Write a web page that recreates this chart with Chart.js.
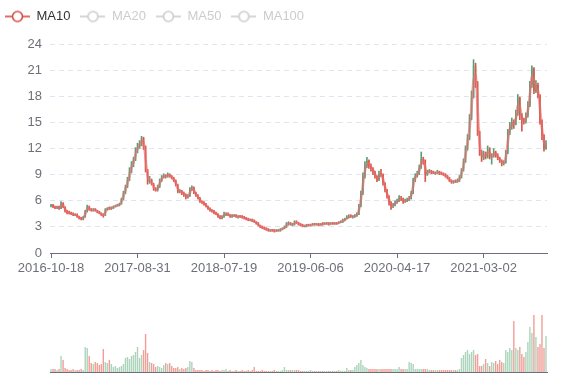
<!DOCTYPE html>
<html>
<head>
<meta charset="utf-8">
<script src="https://cdn.jsdelivr.net/npm/chart.js@4.4.1/dist/chart.umd.min.js"></script>
<style>
html,body{margin:0;padding:0;background:#fff;}
#wrap{position:relative;width:577px;height:380px;overflow:hidden;}
#price{position:absolute;left:0;top:0;}
#vol{position:absolute;left:0;top:290px;}
</style>
</head>
<body>
<div id="wrap">
<canvas id="price" width="577" height="283"></canvas>
<canvas id="vol" width="577" height="90"></canvas>
</div>
<script>
// ---- data (one candle ≈ one trading week) ----
const tickLabels = ['2016-10-18','2017-08-31','2018-07-19','2019-06-06','2020-04-17','2021-03-02'];
const labelEvery = 43;
const legendNames = ['MA10','MA20','MA50','MA100'];
const legendActive = [true,false,false,false];

const openPrices = [
5.4,5.5,5.3,5.2,5.3,5.1,5.7,5.3,4.8,4.7,
4.6,4.5,4.3,4.4,4.2,4.0,3.9,4.1,4.8,5.3,
5.0,4.9,5.0,4.9,4.7,4.6,4.4,4.3,5.0,5.2,
5.1,5.2,5.3,5.4,5.5,5.6,6.2,6.9,7.6,8.4,
9.4,10.2,10.7,11.8,12.2,12.5,13.2,12.2,9.5,8.2,
8.4,7.9,7.3,7.2,7.6,8.3,8.7,8.9,8.8,9.0,
8.8,8.6,8.3,7.8,7.0,7.1,6.9,6.7,6.4,6.5,
7.3,7.5,6.9,6.6,6.3,5.9,5.8,5.6,5.4,5.1,
4.9,4.8,4.6,4.5,4.2,4.0,4.2,4.4,4.5,4.4,
4.2,4.2,4.3,4.1,4.3,4.2,4.1,4.0,3.9,3.7,
3.8,3.7,3.6,3.4,3.2,3.0,2.9,2.8,2.7,2.5,
2.7,2.6,2.5,2.5,2.6,2.7,2.8,3.0,3.3,3.4,
3.2,3.3,3.6,3.5,3.3,3.2,3.0,3.1,3.3,3.1,
3.2,3.4,3.2,3.3,3.2,3.4,3.3,3.3,3.4,3.3,
3.5,3.3,3.5,3.4,3.5,3.6,3.7,3.9,4.1,4.3,
4.1,4.2,4.3,4.4,5.4,6.8,8.8,10.0,10.6,10.0,
9.7,9.3,8.8,8.4,9.2,9.0,8.0,7.2,6.5,5.8,
5.4,5.5,5.8,6.0,6.3,6.2,5.9,6.0,6.1,6.3,
6.9,8.4,8.8,9.1,9.8,10.8,10.6,9.0,9.3,9.4,
9.3,9.1,9.2,9.3,9.2,9.1,9.0,8.9,8.6,8.3,
8.1,8.3,8.2,8.3,8.7,9.5,10.5,12.0,13.2,15.5,
18.0,21.5,19.5,13.9,11.6,10.9,11.4,11.0,12.0,11.0,
11.1,11.6,11.2,10.9,10.6,10.3,10.4,11.5,13.9,14.5,
15.1,14.8,16.0,17.8,15.8,15.2,15.1,15.8,17.0,19.3,
21.2,18.6,19.3,18.1,15.1,13.5,12.0
];
const closePrices = [
5.5,5.3,5.2,5.3,5.1,5.7,5.3,4.8,4.6,4.6,
4.5,4.4,4.4,4.2,4.0,3.9,4.1,4.8,5.3,5.0,
4.9,5.0,4.9,4.7,4.6,4.4,4.3,5.0,5.1,5.1,
5.2,5.3,5.4,5.5,5.6,6.2,6.9,7.6,8.4,9.4,
10.2,10.7,11.8,12.2,12.5,13.2,12.2,9.5,8.2,8.4,
7.9,7.3,7.2,7.6,8.3,8.7,8.9,8.8,9.0,8.8,
8.6,8.3,7.8,7.0,7.1,6.9,6.7,6.4,6.5,7.3,
7.5,6.9,6.6,6.3,5.9,5.8,5.6,5.4,5.1,4.9,
4.8,4.6,4.5,4.2,4.0,4.2,4.5,4.5,4.4,4.2,
4.3,4.3,4.2,4.2,4.2,4.1,4.0,3.9,3.8,3.8,
3.7,3.6,3.4,3.2,3.0,2.9,2.8,2.7,2.6,2.6,
2.6,2.5,2.6,2.6,2.7,2.8,3.0,3.3,3.4,3.3,
3.3,3.5,3.5,3.3,3.2,3.1,3.1,3.2,3.2,3.2,
3.3,3.3,3.3,3.2,3.3,3.3,3.4,3.4,3.3,3.4,
3.4,3.4,3.4,3.5,3.6,3.7,3.9,4.1,4.2,4.2,
4.2,4.3,4.4,5.4,6.8,8.8,10.0,10.6,10.0,9.7,
9.3,8.8,8.4,9.0,9.0,8.0,7.2,6.5,5.8,5.4,
5.5,5.8,6.0,6.3,6.2,5.9,6.0,6.1,6.3,6.9,
8.4,8.8,9.1,9.8,10.8,10.6,9.0,9.3,9.4,9.3,
9.2,9.2,9.3,9.2,9.1,9.0,8.9,8.6,8.3,8.2,
8.2,8.2,8.3,8.7,9.5,10.5,12.0,13.2,15.5,18.0,
21.5,19.5,13.9,11.6,10.9,11.4,11.0,12.0,11.0,11.1,
11.6,11.2,10.9,10.6,10.3,10.4,11.5,13.9,14.5,15.1,
14.8,16.0,17.8,15.8,15.2,15.1,15.8,17.0,19.3,21.2,
18.6,19.3,18.1,15.1,13.5,12.0,12.6
];
const highPrices = [
5.6,5.6,5.4,5.4,5.4,5.9,5.8,5.3,4.9,4.8,
4.7,4.6,4.5,4.5,4.2,4.1,4.2,4.9,5.5,5.4,
5.1,5.1,5.1,4.9,4.8,4.6,4.5,5.1,5.2,5.3,
5.3,5.4,5.5,5.6,5.7,6.3,7.1,7.8,8.7,9.8,
10.5,11.0,12.1,12.6,12.9,13.4,13.3,12.3,9.6,8.8,
8.5,8.0,7.5,7.8,8.5,8.9,9.1,9.0,9.2,9.1,
8.9,8.7,8.4,7.9,7.3,7.2,7.0,6.8,6.7,7.5,
7.7,7.6,7.0,6.7,6.4,6.0,5.9,5.7,5.4,5.2,
5.0,4.9,4.7,4.5,4.3,4.3,4.7,4.6,4.6,4.4,
4.4,4.4,4.4,4.3,4.3,4.3,4.2,4.1,4.0,3.9,
3.9,3.8,3.6,3.5,3.2,3.1,3.0,2.9,2.8,2.7,
2.7,2.7,2.7,2.7,2.8,2.9,3.1,3.5,3.6,3.5,
3.4,3.7,3.7,3.5,3.4,3.3,3.2,3.3,3.3,3.3,
3.4,3.4,3.4,3.4,3.4,3.5,3.5,3.5,3.5,3.5,
3.5,3.5,3.5,3.6,3.7,3.9,4.0,4.3,4.4,4.4,
4.3,4.4,4.6,5.6,7.1,9.2,10.5,11.0,10.7,10.2,
9.8,9.4,8.9,9.4,9.6,9.1,8.1,7.3,6.6,5.9,
5.7,6.0,6.2,6.6,6.5,6.3,6.2,6.3,6.5,7.1,
8.6,9.1,9.4,10.1,11.6,11.0,10.7,9.5,9.6,9.5,
9.4,9.3,9.5,9.4,9.3,9.2,9.1,8.9,8.7,8.4,
8.3,8.4,8.5,8.9,9.7,10.8,12.3,13.6,15.9,18.6,
22.2,21.8,19.7,14.0,11.8,11.7,11.6,12.3,12.1,11.4,
12.0,11.7,11.4,11.0,10.7,10.6,11.8,14.2,15.0,15.5,
15.3,16.4,18.2,17.9,16.0,15.5,16.1,17.4,19.7,21.5,
21.3,19.8,19.5,18.2,15.3,13.6,12.9
];
const lowPrices = [
5.3,5.2,5.1,5.1,5.0,5.1,5.2,4.7,4.5,4.5,
4.4,4.3,4.3,4.1,3.9,3.8,3.8,4.1,4.7,4.9,
4.8,4.8,4.8,4.6,4.5,4.3,4.1,4.3,4.9,5.0,
5.0,5.1,5.3,5.4,5.4,5.6,6.1,6.8,7.5,8.3,
9.2,9.9,10.6,11.5,12.0,12.3,11.9,9.3,7.9,8.0,
7.8,7.2,7.1,7.1,7.5,8.2,8.6,8.6,8.7,8.7,
8.5,8.2,7.7,6.9,6.9,6.7,6.5,6.2,6.3,6.5,
7.2,6.8,6.5,6.2,5.8,5.7,5.5,5.3,5.0,4.8,
4.7,4.5,4.4,4.1,3.9,3.9,4.1,4.3,4.3,4.1,
4.1,4.2,4.1,4.0,4.1,4.0,3.9,3.8,3.7,3.7,
3.6,3.5,3.3,3.1,2.9,2.8,2.7,2.6,2.5,2.5,
2.5,2.4,2.5,2.5,2.5,2.7,2.8,2.9,3.2,3.2,
3.1,3.2,3.4,3.2,3.1,3.0,3.0,3.0,3.1,3.1,
3.2,3.2,3.2,3.1,3.2,3.2,3.3,3.3,3.2,3.3,
3.3,3.3,3.3,3.4,3.5,3.5,3.7,3.9,4.0,4.1,
4.0,4.1,4.2,4.4,5.3,6.7,8.6,9.8,9.7,9.4,
9.0,8.6,8.2,8.3,8.8,7.8,7.0,6.3,5.5,5.0,
5.2,5.4,5.7,5.9,6.0,5.7,5.8,5.9,6.0,6.2,
6.8,8.2,8.7,9.0,9.7,10.2,8.2,8.9,9.2,9.1,
9.1,9.0,9.1,9.0,9.0,8.9,8.7,8.5,8.2,8.0,
8.0,8.1,8.1,8.2,8.6,9.4,10.4,11.8,13.0,15.3,
17.8,19.0,13.5,11.2,10.5,10.7,10.8,10.9,10.8,10.2,
11.0,11.0,10.7,10.4,10.0,10.1,10.3,11.4,13.6,14.2,
14.3,14.7,15.8,15.3,14.0,14.8,14.9,15.6,16.8,19.0,
18.3,18.4,17.8,14.8,13.0,11.7,11.9
];
const volumes = [
3,3,3,2,3,16,12,4,3,2,
2,3,2,2,2,3,2,25,24,16,
9,8,10,9,7,8,23,10,9,12,
8,5,6,4,5,6,8,14,15,13,
16,17,20,25,14,17,22,38,19,10,
9,8,5,6,5,4,7,9,8,9,
6,4,4,5,3,4,3,4,5,11,
10,4,2,2,2,2,1,2,2,1,
2,1,2,2,1,2,2,3,1,2,
1,1,2,1,1,2,1,1,2,1,
2,5,1,1,1,2,1,1,1,1,
1,2,1,1,1,2,5,2,2,2,
2,2,2,2,1,1,1,1,1,2,
1,1,1,1,1,1,1,1,1,1,
1,1,1,2,1,1,1,4,2,2,
2,5,7,9,12,7,5,4,3,3,
3,3,3,3,3,3,3,3,3,3,
3,3,3,5,3,3,3,3,10,9,
8,3,3,3,3,3,3,3,2,2,
2,2,2,2,2,2,2,2,2,2,
2,2,2,3,14,17,20,22,18,20,
22,17,18,6,6,8,13,9,6,10,
9,11,8,12,10,9,22,20,24,22,
51,24,22,25,18,15,20,30,45,39,
57,35,25,28,57,24,36
];

// ---- derived ----
// category dates: each tick label starts a run of weekly candles
const categories = closePrices.map((_, i) => {
  const k = Math.floor(i / labelEvery);
  const d = new Date(tickLabels[k] + 'T00:00:00Z');
  d.setUTCDate(d.getUTCDate() + 7 * (i % labelEvery));
  return d.toISOString().slice(0, 10);
});
// MA10: 10 trading days = 2 weekly candles
const MA_WINDOW = 2;
const ma10 = closePrices.map((_, i) => {
  if (i < MA_WINDOW - 1) return null;
  let s = 0;
  for (let j = i - MA_WINDOW + 1; j <= i; j++) s += closePrices[j];
  return +(s / MA_WINDOW).toFixed(3);
});
const bodies = closePrices.map((c, i) => [openPrices[i], c]);
const wicks = closePrices.map((c, i) => [
  Math.min(lowPrices[i], openPrices[i], c),
  Math.max(highPrices[i], openPrices[i], c)
]);

const UP = '#5a9f78', DOWN = '#d9584a';
const VOL_UP = 'rgba(90,170,120,0.5)', VOL_DOWN = 'rgba(230,95,80,0.6)';
const isUp = closePrices.map((c, i) => c >= openPrices[i]);
const candleColors = isUp.map(u => u ? UP : DOWN);
const volColors = isUp.map(u => u ? VOL_UP : VOL_DOWN);

const FONT = 'Liberation Sans, Arial, Helvetica, sans-serif';
const AXIS = '#6E7079';

function legendIcon(color) {
  const c = document.createElement('canvas');
  c.width = 25; c.height = 14;
  const g = c.getContext('2d');
  g.strokeStyle = color; g.lineWidth = 1.6;
  g.beginPath(); g.moveTo(0, 7); g.lineTo(25, 7); g.stroke();
  g.beginPath(); g.arc(12.5, 7, 5, 0, Math.PI * 2);
  g.fillStyle = '#fff'; g.fill(); g.stroke();
  return c;
}
const legendIcons = legendNames.map((n, i) => legendIcon(legendActive[i] ? '#d84a45' : '#cccccc'));

new Chart(document.getElementById('price'), {
  data: {
    labels: categories,
    datasets: [
      { type: 'line', label: 'MA10', data: ma10, borderColor: 'rgba(232,110,110,0.6)',
        borderWidth: 2.6, pointRadius: 0, tension: 0.35, order: 0 },
      { type: 'bar', label: 'wick', data: wicks, backgroundColor: candleColors,
        barThickness: 1, grouped: false, order: 2 },
      { type: 'bar', label: 'body', data: bodies, backgroundColor: candleColors,
        barPercentage: 0.65, categoryPercentage: 1, grouped: false, minBarLength: 1, order: 1 }
    ]
  },
  options: {
    responsive: false,
    animation: false,
    events: [],
    layout: { padding: { left: -5, right: 30, top: 0, bottom: 0 } },
    plugins: {
      tooltip: { enabled: false },
      legend: {
        position: 'top', align: 'start', weight: 3000, onClick: null,
        labels: {
          usePointStyle: true, pointStyleWidth: 25, padding: 10,
          font: { family: FONT, size: 13 },
          generateLabels: () => legendNames.map((n, i) => ({
            text: n, pointStyle: legendIcons[i], fillStyle: '#fff',
            strokeStyle: legendActive[i] ? '#d84a45' : '#ccc', lineWidth: 0,
            hidden: false, fontColor: legendActive[i] ? '#333' : '#ccc'
          }))
        }
      },
      subtitle: { display: true, text: '', padding: 0, font: { size: 11, lineHeight: 1 } }
    },
    scales: {
      x: {
        type: 'category', offset: true,
        grid: { display: true, drawOnChartArea: false, drawTicks: true, tickLength: 5, color: AXIS, offset: false },
        border: { display: true, color: AXIS },
        ticks: {
          autoSkip: false, maxRotation: 0, minRotation: 0, padding: 3, color: AXIS,
          font: { family: FONT, size: 13 },
          callback: (v, i) => (i % labelEvery === 0 ? categories[i] : null)
        },
        afterFit: s => { s.height = 30; }
      },
      y: {
        min: 0, max: 24,
        ticks: { stepSize: 3, color: AXIS, padding: 8, font: { family: FONT, size: 13 } },
        grid: { color: '#E0E6F1', drawTicks: false },
        border: { display: false, dash: [5, 4] },
        afterFit: s => { s.width = 55; }
      }
    }
  }
});

new Chart(document.getElementById('vol'), {
  type: 'bar',
  data: {
    labels: categories,
    datasets: [{ label: 'Volume', data: volumes, backgroundColor: volColors,
      barPercentage: 0.7, categoryPercentage: 1 }]
  },
  options: {
    responsive: false,
    animation: false,
    events: [],
    layout: { padding: { left: 50, right: 30, top: 10, bottom: 8 } },
    plugins: { legend: { display: false }, tooltip: { enabled: false } },
    scales: {
      x: {
        grid: { display: false }, ticks: { display: false },
        border: { display: true, color: AXIS },
        afterFit: s => { s.height = 0; }
      },
      y: { display: false, min: 0, max: 72 }
    }
  }
});
</script>
</body>
</html>
